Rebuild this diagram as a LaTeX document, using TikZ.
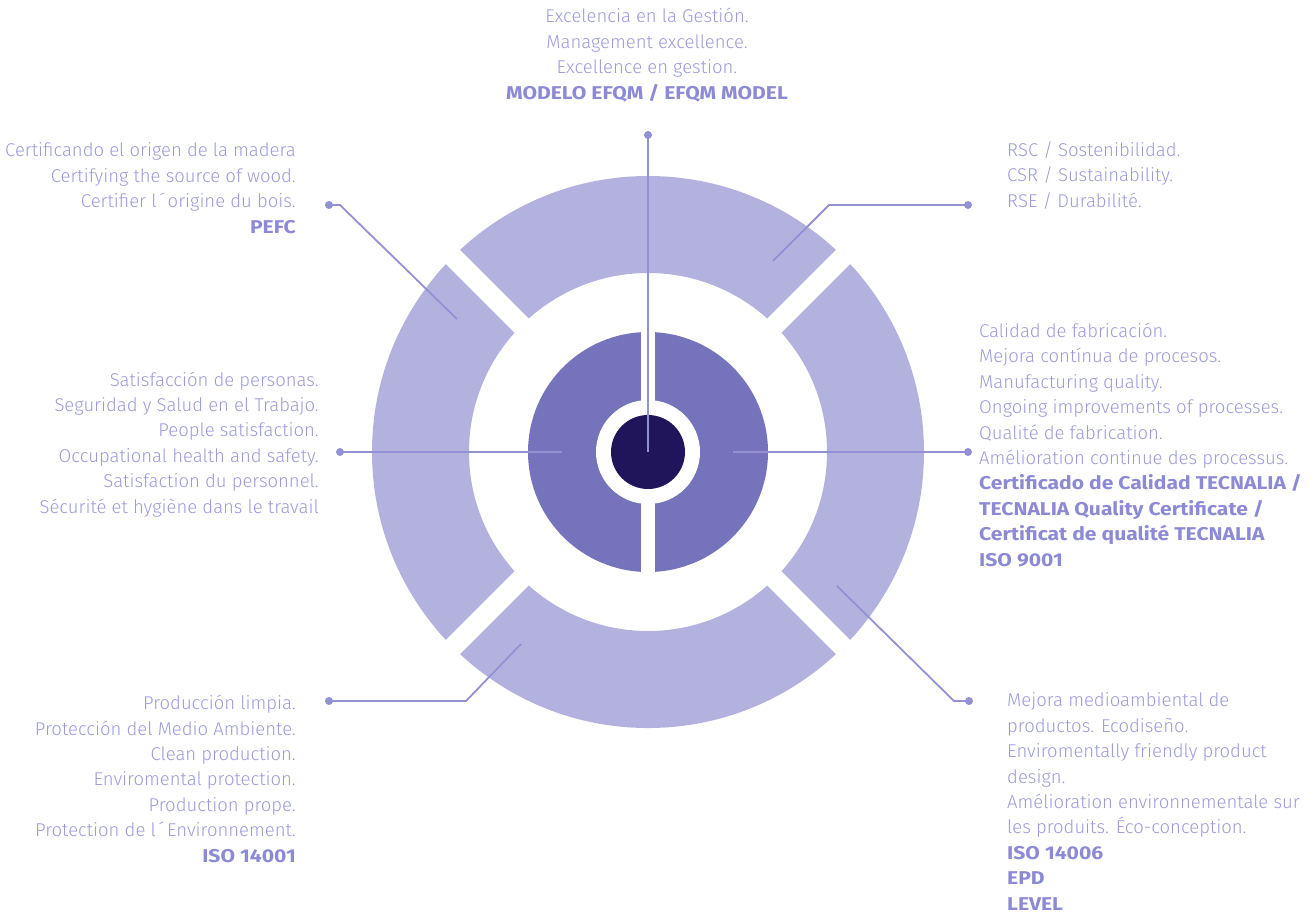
\documentclass[tikz,border=0pt]{standalone}
\usepackage{fontspec}
\setmainfont{Fira Sans Light}[BoldFont={Fira Sans Bold},BoldFeatures={FakeStretch=1.14}]
\usetikzlibrary{calc}
\definecolor{ringlight}{HTML}{B3B2DF}
\definecolor{ringmid}{HTML}{7473BC}
\definecolor{ringdark}{HTML}{20145B}
\definecolor{txtcol}{HTML}{9C9ADB}
\definecolor{boldcol}{HTML}{8C8AD4}
\definecolor{linecol}{HTML}{9391D3}
\newcommand{\bt}[1]{\textcolor{boldcol}{\bfseries #1}}
\begin{document}
\begin{tikzpicture}[x=1pt,y=-1pt,
  txt/.style={inner sep=0pt, text=txtcol, font=\fontsize{18.5}{25.4}\selectfont},
  conn/.style={draw=linecol, line width=1.8pt},
  dotnode/.style={circle, fill=linecol, inner sep=0pt, minimum size=8pt}]
\useasboundingbox (0,0) rectangle (1314,914);
\coordinate (c) at (648,452);
% outer ring
\fill[ringlight, even odd rule] (c) circle[radius=276] (c) circle[radius=179];
\draw[white, line width=20pt] ($(c)+(45:300)$) -- ($(c)+(225:300)$);
\draw[white, line width=20pt] ($(c)+(135:300)$) -- ($(c)+(315:300)$);
% inner donut
\fill[ringmid] (c) circle[radius=120];
\fill[white] (c) circle[radius=52];
\fill[white] (641,325) rectangle (655,580);
\fill[ringdark] (c) circle[radius=37];
% dots and end points
\node[dotnode] (dT) at (648,135) {};
\node[dotnode] (dTL) at (329,205) {};
\node[dotnode] (dTR) at (968,205) {};
\node[dotnode] (dL) at (340,452) {};
\node[dotnode] (dR) at (968,452) {};
\node[dotnode] (dBL) at (329,701) {};
\node[dotnode] (dBR) at (969,701) {};
\coordinate (eTL) at (457,319);
\coordinate (kTL) at (340,205);
\coordinate (eTR) at (773,261);
\coordinate (kTR) at (829,205);
\coordinate (eL) at (562,452);
\coordinate (eR) at (733,452);
\coordinate (eBL) at (521,644);
\coordinate (kBL) at (466,701);
\coordinate (eBR) at (837,586);
\coordinate (kBR) at (954,701);
% connectors
\draw[conn] (dT.center) -- (c);
\draw[conn] (dTL.center) -- (kTL) -- (eTL);
\draw[conn] (eTR) -- (kTR) -- (dTR.center);
\draw[conn] (dL.center) -- (eL);
\draw[conn] (eR) -- (dR.center);
\draw[conn] (dBL.center) -- (kBL) -- (eBL);
\draw[conn] (eBR) -- (kBR) -- (dBR.center);
% texts (anchor = baseline of the last line)
\node[txt, align=center, anchor=base] (tTop) at (647,99)
  {Excelencia en la Gestión.\\Management excellence.\\Excellence en gestion.\\\bt{MODELO EFQM / EFQM MODEL}};
\node[txt, align=right, anchor=base east] (tTL) at (296,233)
  {Certificando el origen de la madera\\Certifying the source of wood.\\Certifier l\,´\,origine du bois.\\\bt{PEFC}};
\node[txt, align=left, anchor=base west] (tTR) at (1007,207)
  {RSC / Sostenibilidad.\\CSR / Sustainability.\\RSE / Durabilité.};
\node[txt, align=right, anchor=base east] (tL) at (319,513)
  {Satisfacción de personas.\\Seguridad y Salud en el Trabajo.\\People satisfaction.\\Occupational health and safety.\\Satisfaction du personnel.\\Sécurité et hygiène dans le travail};
\node[txt, align=left, anchor=base west] (tR) at (979,566)
  {Calidad de fabricación.\\Mejora contínua de procesos.\\Manufacturing quality.\\Ongoing improvements of processes.\\Qualité de fabrication.\\Amélioration continue des processus.\\\bt{Certificado de Calidad TECNALIA /}\\\bt{TECNALIA Quality Certificate /}\\\bt{Certificat de qualité TECNALIA}\\\bt{ISO 9001}};
\node[txt, align=right, anchor=base east] (tBL) at (296,862)
  {Producción limpia.\\Protección del Medio Ambiente.\\Clean production.\\Enviromental protection.\\Production prope.\\Protection de l\,´\,Environnement.\\\bt{ISO 14001}};
\node[txt, align=left, anchor=base west] (tBR) at (1007,910)
  {Mejora medioambiental de\\productos. Ecodiseño.\\Enviromentally friendly product\\design.\\Amélioration environnementale sur\\les produits. Éco-conception.\\\bt{ISO 14006}\\\bt{EPD}\\\bt{LEVEL}};
\end{tikzpicture}
\end{document}
